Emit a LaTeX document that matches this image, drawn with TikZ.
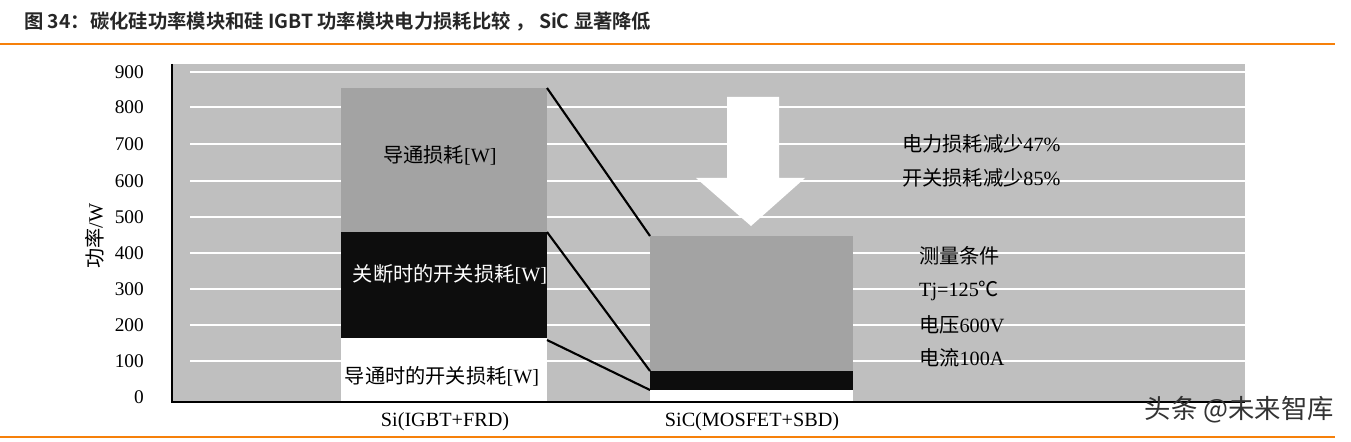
\documentclass[tikz,border=0pt]{standalone}
\usepackage{fontspec}
\setmainfont{Liberation Serif}
\newfontfamily\cjk{Noto Sans CJK SC}
\newfontfamily\cjkb{Noto Sans CJK SC Bold}
\newcommand{\zh}[1]{{\cjk #1}}
\begin{document}
\begin{tikzpicture}[x=0.02cm,y=-0.02cm,
  lbl/.style={font=\fontsize{11.5}{13}\selectfont},
  num/.style={font=\fontsize{11}{13}\selectfont,anchor=east},
  conn/.style={line width=1.2pt,black}]
\useasboundingbox (0,0) rectangle (1351,442);
\fill[white] (0,0) rectangle (1351,442);
\node[anchor=west,text=black!85,font=\cjkb\fontsize{11}{13}\selectfont] (title) at (18,22) {图 34：碳化硅功率模块和硅 IGBT 功率模块电力损耗比较 ， SiC 显著降低};
\draw[orange!85!brown,line width=1pt] (0,44) -- (1335,44);
\draw[orange!85!brown,line width=1pt] (0,437) -- (1335,437);
% plot area
\fill[black!25] (172,64) rectangle (1245,402);
\foreach \v/\yy in {100/361,200/325,300/289,400/253,500/217,600/181,700/144,800/107,900/72}
  \draw[white,line width=1.2pt] (190,\yy) -- (1245,\yy);
\foreach \v/\yy in {0/397,100/361,200/325,300/289,400/253,500/217,600/181,700/144,800/107,900/72}
  \node[num] at (150,\yy) {\v};
\draw[line width=1.5pt] (172,64) -- (172,402) -- (1245,402);
\node[lbl,rotate=90] (ylab) at (95,236) {\zh{功率}/W};
% bar 1
\fill[black!36] (341,88) rectangle (547,232);
\fill[black!95] (341,232) rectangle (547,338);
\fill[white] (341,338) rectangle (547,401);
\node[lbl] (a1) at (440,155) {\zh{导通损耗}[W]};
\node[lbl,text=white] (a2) at (450,274) {\zh{关断时的开关损耗}[W]};
\node[lbl] (a3) at (442,376) {\zh{导通时的开关损耗}[W]};
% bar 2
\fill[black!36] (650,236) rectangle (853,371);
\fill[black!95] (650,371) rectangle (853,390);
\fill[white] (650,390) rectangle (853,401);
\coordinate (b1t) at (547,88); \coordinate (c1t) at (650,236);
\coordinate (b1m) at (547,232); \coordinate (c1m) at (650,371);
\coordinate (b1l) at (547,340); \coordinate (c1l) at (650,390);
\draw[conn] (b1t) -- (c1t);
\draw[conn] (b1m) -- (c1m);
\draw[conn] (b1l) -- (c1l);
% arrow
\fill[white] (727,97) -- (779,97) -- (779,178) -- (805,178) -- (751,226) -- (696,178) -- (727,178) -- cycle;
\node[lbl,anchor=west] (t1) at (896,144) {\zh{电力损耗减少}47\%};
\node[lbl,anchor=west] (t2) at (896,178) {\zh{开关损耗减少}85\%};
\node[lbl,anchor=west] (t3) at (913,256) {\zh{测量条件}};
\node[lbl,anchor=west] (t4) at (913,291) {Tj=125\zh{℃}};
\node[lbl,anchor=west] (t5) at (913,325) {\zh{电压}600V};
\node[lbl,anchor=west] (t6) at (913,358) {\zh{电流}100A};
\node[lbl] (x1) at (445,422) {Si(IGBT+FRD)};
\node[lbl] (x2) at (752,422) {SiC(MOSFET+SBD)};
\node[anchor=east,text=black!80,font=\cjk\fontsize{15}{17}\selectfont] (wm) at (1340,410) {头条 @未来智库};
\end{tikzpicture}
\end{document}
